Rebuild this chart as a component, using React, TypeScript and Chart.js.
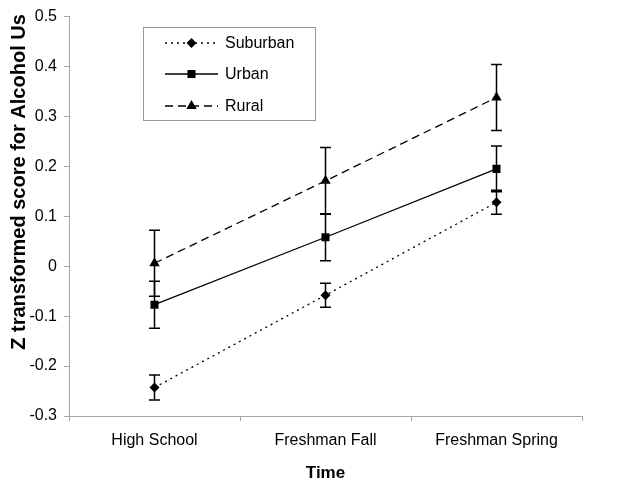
import React, { useEffect, useRef } from "react";
import { Chart, registerables } from "chart.js";

Chart.register(...registerables);

const categories = ["High School", "Freshman Fall", "Freshman Spring"];
const seriesNames = ["Suburban", "Urban", "Rural"];
const suburban = [-0.243, -0.058, 0.128];
const urban = [-0.077, 0.058, 0.195];
const rural = [0.006, 0.171, 0.338];
const suburbanErr = [0.025, 0.024, 0.024];
const urbanErr = [0.047, 0.047, 0.046];
const ruralErr = [0.066, 0.067, 0.066];
const yMin = -0.3;
const yMax = 0.5;
const yStep = 0.1;
const yTitle = "Z transformed score for Alcohol Us";
const xTitle = "Time";

const FONT = "'Liberation Sans', Arial, sans-serif";
const errs = [suburbanErr, urbanErr, ruralErr];
const styles = [
  { dash: [2, 4], point: "rectRot", radius: 5 },
  { dash: [], point: "rect", radius: 5.7 },
  { dash: [8, 5], point: "triangle", radius: 6 },
];

function drawMarker(ctx: CanvasRenderingContext2D, type: string, x: number, y: number, r: number) {
  ctx.beginPath();
  if (type === "rect") {
    const s = Math.SQRT1_2 * r;
    ctx.rect(x - s, y - s, 2 * s, 2 * s);
  } else if (type === "rectRot") {
    ctx.moveTo(x, y - r);
    ctx.lineTo(x + r, y);
    ctx.lineTo(x, y + r);
    ctx.lineTo(x - r, y);
    ctx.closePath();
  } else {
    const a = -Math.PI / 2;
    for (let k = 0; k < 3; k++) {
      const ang = a + (k * 2 * Math.PI) / 3;
      const px = x + Math.cos(ang) * r;
      const py = y + Math.sin(ang) * r;
      if (k === 0) ctx.moveTo(px, py);
      else ctx.lineTo(px, py);
    }
    ctx.closePath();
  }
  ctx.fill();
}

const extrasPlugin = {
  id: "extras",
  afterDatasetsDraw(chart: any) {
    const ctx = chart.ctx;
    const ys = chart.scales.y;
    ctx.save();
    ctx.strokeStyle = "#000";
    ctx.lineWidth = 1.5;
    chart.data.datasets.forEach((ds: any, i: number) => {
      const meta = chart.getDatasetMeta(i);
      meta.data.forEach((pt: any, j: number) => {
        const v = ds.data[j];
        const e = errs[i][j];
        const x = pt.x;
        const yt = ys.getPixelForValue(v + e);
        const yb = ys.getPixelForValue(v - e);
        ctx.beginPath();
        ctx.moveTo(x, yt);
        ctx.lineTo(x, yb);
        ctx.moveTo(x - 5.5, yt);
        ctx.lineTo(x + 5.5, yt);
        ctx.moveTo(x - 5.5, yb);
        ctx.lineTo(x + 5.5, yb);
        ctx.stroke();
      });
    });
    ctx.restore();
  },
  afterDraw(chart: any) {
    const ctx = chart.ctx;
    ctx.save();
    ctx.fillStyle = "#000";
    ctx.font = `bold 20px ${FONT}`;
    ctx.translate(25, 182);
    ctx.rotate(-Math.PI / 2);
    ctx.textAlign = "center";
    ctx.textBaseline = "alphabetic";
    ctx.fillText(yTitle, 0, 0);
    ctx.restore();

    ctx.save();
    ctx.fillStyle = "#000";
    ctx.font = `bold 17px ${FONT}`;
    ctx.textAlign = "center";
    ctx.textBaseline = "alphabetic";
    const ca = chart.chartArea;
    ctx.fillText(xTitle, (ca.left + ca.right) / 2, 478);
    ctx.restore();

    ctx.save();
    const bx = 143.5, by = 27.5, bw = 172, bh = 93;
    ctx.fillStyle = "#fff";
    ctx.fillRect(bx, by, bw, bh);
    ctx.strokeStyle = "#999";
    ctx.lineWidth = 1;
    ctx.strokeRect(bx, by, bw, bh);
    const rows = [43, 74, 106];
    chart.data.datasets.forEach((ds: any, i: number) => {
      const y = rows[i];
      ctx.strokeStyle = "#000";
      ctx.lineWidth = 1.3;
      ctx.setLineDash(styles[i].dash);
      ctx.beginPath();
      ctx.moveTo(165, y);
      ctx.lineTo(218, y);
      ctx.stroke();
      ctx.setLineDash([]);
      ctx.fillStyle = "#000";
      drawMarker(ctx, styles[i].point, 191.5, y, styles[i].radius);
      ctx.font = `16px ${FONT}`;
      ctx.textAlign = "left";
      ctx.textBaseline = "middle";
      ctx.fillText(ds.label, 225, y + 1);
    });
    ctx.restore();
  },
};

export default function App() {
  const ref = useRef<HTMLCanvasElement | null>(null);
  useEffect(() => {
    if (!ref.current) return;
    const values = [suburban, urban, rural];
    const chart = new Chart(ref.current, {
      type: "line",
      data: {
        labels: categories,
        datasets: seriesNames.map((name, i) => ({
          label: name,
          data: values[i],
          borderColor: "#000",
          backgroundColor: "#000",
          borderWidth: 1.3,
          borderDash: styles[i].dash,
          pointStyle: styles[i].point as any,
          pointRadius: styles[i].radius,
          pointBorderWidth: 0,
          pointBackgroundColor: "#000",
          tension: 0,
          fill: false,
        })),
      },
      options: {
        responsive: false,
        animation: false,
        devicePixelRatio: 1,
        layout: { padding: { top: 7, right: 60, left: 0, bottom: 0 } },
        plugins: {
          legend: { display: false },
          tooltip: { enabled: false },
        },
        scales: {
          x: {
            type: "category",
            offset: true,
            grid: {
              offset: true,
              drawOnChartArea: false,
              drawTicks: true,
              tickLength: 5,
              color: "#a6a6a6",
            },
            border: { color: "#a6a6a6", width: 1 },
            ticks: {
              color: "#000",
              font: { family: FONT, size: 16 },
              padding: 10,
              maxRotation: 0,
              autoSkip: false,
            },
            afterFit(scale: any) {
              scale.height = 63;
            },
          },
          y: {
            min: yMin,
            max: yMax,
            grid: {
              drawOnChartArea: false,
              drawTicks: true,
              tickLength: 5,
              color: "#a6a6a6",
            },
            border: { color: "#a6a6a6", width: 1 },
            ticks: {
              stepSize: yStep,
              color: "#000",
              font: { family: FONT, size: 16 },
              padding: 7,
              callback: (v: any) => {
                const n = Math.round(Number(v) * 10) / 10;
                return n === 0 ? "0" : String(n);
              },
            },
            afterFit(scale: any) {
              scale.width = 69;
            },
          },
        },
      },
      plugins: [extrasPlugin],
    });
    return () => chart.destroy();
  }, []);
  return (
    <div style={{ position: "fixed", left: 0, top: 0, width: 642, height: 479, background: "#fff" }}>
      <canvas ref={ref} width={642} height={479} />
    </div>
  );
}
